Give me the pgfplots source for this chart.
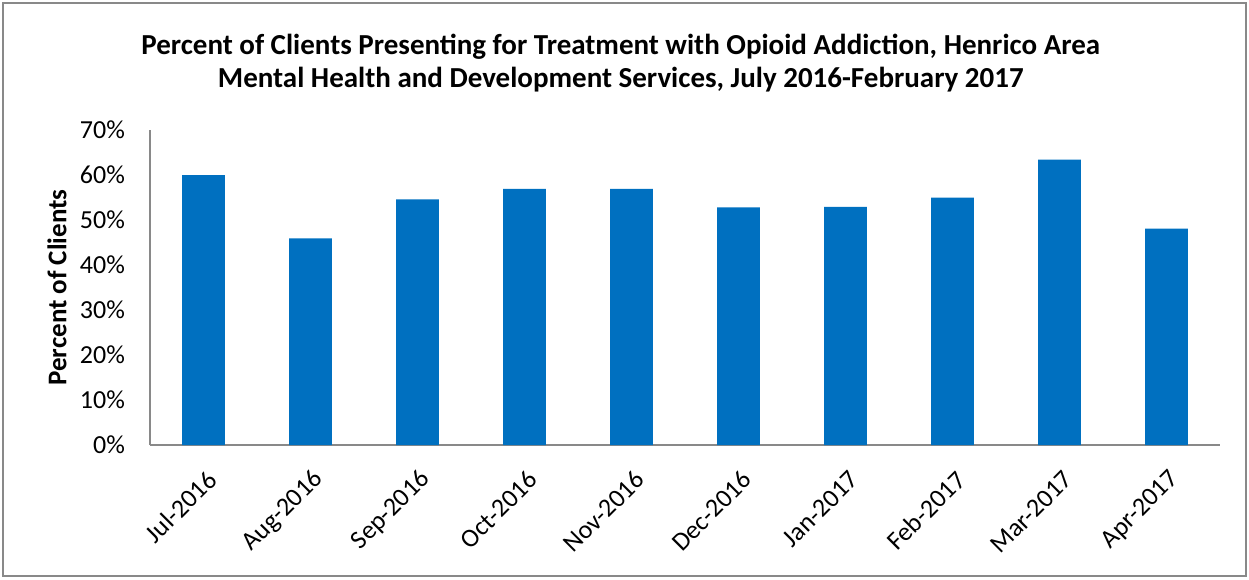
\documentclass[border=0pt]{standalone}
\usepackage{pgfplots}
\pgfplotsset{compat=1.18}
\usepackage{fontspec}
\setmainfont{Carlito}
\definecolor{barblue}{HTML}{0070C0}
\definecolor{axgray}{HTML}{898989}
\begin{document}
\begin{tikzpicture}
\path[use as bounding box] (0,0) rectangle (624.5pt,289.5pt);
\draw[axgray, line width=0.8pt] (1.5pt,1.5pt) rectangle (623pt,288pt);
\begin{axis}[
    at={(75pt,67pt)}, anchor=south west,
    width=535pt, height=157.5pt,
    scale only axis,
    ybar, bar width=21.4pt,
    xmin=-0.5, xmax=9.5,
    ymin=0, ymax=70,
    axis lines*=left,
    axis line style={axgray, line width=0.9pt},
    major tick length=0pt,
    xtick=data,
    xticklabels={Jul-2016,Aug-2016,Sep-2016,Oct-2016,Nov-2016,Dec-2016,Jan-2017,Feb-2017,Mar-2017,Apr-2017},
    xticklabel style={rotate=45, anchor=east, font=\fontsize{13}{15}\selectfont, xshift=-4.2pt, yshift=-13.8pt},
    ytick={0,10,...,70},
    yticklabel={\pgfmathprintnumber[assume math mode=true]{\tick}\%},
    yticklabel style={font=\fontsize{13}{15}\selectfont, xshift=-9pt},
    ylabel={\textbf{Percent of Clients}},
    ylabel style={at={(axis description cs:-0.087,0.5)}, anchor=center, font=\fontsize{13.5}{15}\selectfont},
    title={\textbf{Percent of Clients Presenting for Treatment with Opioid Addiction, Henrico Area}\\\textbf{Mental Health and Development Services, July 2016-February 2017}},
    title style={at={(axis description cs:0.440,1.175)}, anchor=center, yshift=0pt, align=center, font=\fontsize{14.5}{16.5}\selectfont},
    clip=false,
]
\addplot[fill=barblue, draw=none] coordinates {
    (0,60.0) (1,45.9) (2,54.6) (3,56.9) (4,56.9)
    (5,52.8) (6,52.9) (7,55.0) (8,63.4) (9,48.1)
};
\end{axis}
\end{tikzpicture}
\end{document}
